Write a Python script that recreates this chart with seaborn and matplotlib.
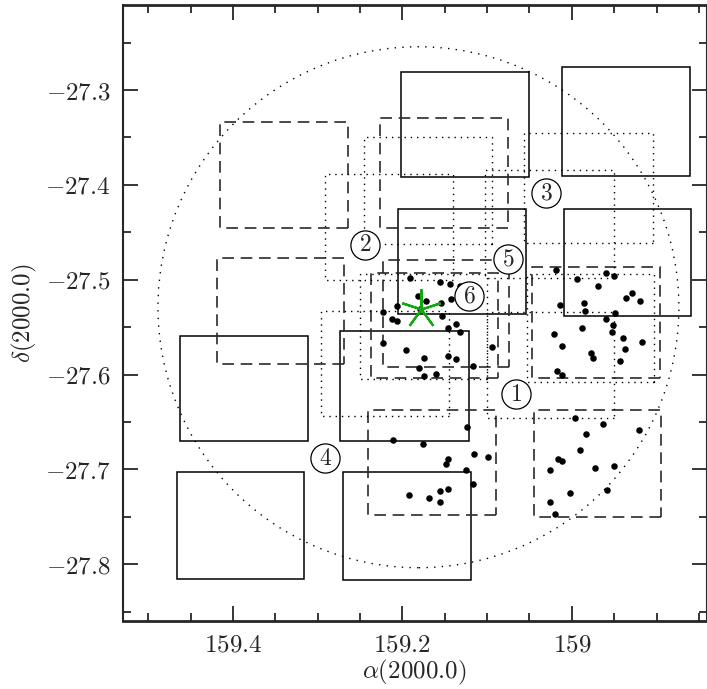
import matplotlib
matplotlib.use('Agg')
import matplotlib.pyplot as plt
import pandas as pd
import seaborn as sns
from matplotlib.patches import Rectangle, Ellipse
from matplotlib.ticker import MultipleLocator, FuncFormatter

# field boxes: (RA east edge, RA west edge), (Dec top, Dec bottom)
solid_ra = [(159.201, 159.050), (159.012, 158.860), (159.205, 159.054), (159.009, 158.859),
            (159.462, 159.311), (159.273, 159.121), (159.466, 159.316), (159.270, 159.119)]
solid_dec = [(-27.281, -27.392), (-27.276, -27.391), (-27.425, -27.536), (-27.425, -27.538),
             (-27.559, -27.670), (-27.554, -27.670), (-27.703, -27.815), (-27.703, -27.817)]

dashed_ra = [(159.415, 159.264), (159.419, 159.269), (159.226, 159.075), (159.223, 159.074),
             (159.237, 159.087), (159.241, 159.090), (159.045, 158.895), (159.047, 158.896)]
dashed_dec = [(-27.334, -27.445), (-27.477, -27.589), (-27.329, -27.445), (-27.479, -27.592),
              (-27.493, -27.604), (-27.637, -27.748), (-27.637, -27.750), (-27.487, -27.604)]

dotted_ra = [(159.291, 159.140), (159.245, 159.094), (159.102, 158.950), (159.056, 158.904),
             (159.296, 159.145), (159.250, 159.100), (159.053, 158.903), (159.100, 158.950)]
dotted_dec = [(-27.389, -27.500), (-27.350, -27.462), (-27.384, -27.498), (-27.345, -27.461),
              (-27.533, -27.644), (-27.494, -27.605), (-27.494, -27.608), (-27.534, -27.646)]

# survey circle
circle_ra, circle_dec = 159.181, -27.529
circle_rra, circle_rdec = 0.3074, 0.2746

# central object
star_ra, star_dec = 159.178, -27.531

# numbered labels
label_num = [1, 2, 3, 4, 5, 6]
label_ra = [159.066, 159.244, 159.030, 159.291, 159.075, 159.121]
label_dec = [-27.621, -27.463, -27.409, -27.688, -27.478, -27.517]

# member dots
dot_ra = [159.191, 159.155, 159.144, 159.132, 159.142, 159.182, 159.172, 159.154, 159.206, 159.179,
          159.223, 159.153, 159.212, 159.206, 159.146, 159.137, 159.132, 159.223, 159.196, 159.174,
          159.146, 159.137, 159.117, 159.180, 159.174, 159.160, 159.094, 159.124,
          159.211, 159.176, 159.146, 159.148, 159.116, 159.099, 159.125, 159.117, 159.192, 159.169,
          159.156, 159.146, 159.155,
          159.019, 158.994, 158.960, 158.950, 158.969, 158.936, 158.929, 158.919, 159.014, 158.986,
          158.984, 158.949, 158.960, 158.988, 158.951, 158.952, 159.021, 158.940, 158.917, 159.011,
          158.937, 158.977, 158.975, 158.943, 159.017, 159.011, 158.996, 158.963, 158.921,
          158.983, 158.990, 159.016, 159.011, 159.026, 158.973, 158.950, 159.002, 158.958, 159.026, 159.020]
dot_dec = [-27.498, -27.502, -27.505, -27.507, -27.520, -27.517, -27.522, -27.525, -27.528, -27.531,
           -27.534, -27.538, -27.541, -27.544, -27.551, -27.547, -27.555, -27.567, -27.574, -27.582,
           -27.580, -27.584, -27.591, -27.593, -27.602, -27.599, -27.571, -27.655,
           -27.669, -27.673, -27.689, -27.694, -27.684, -27.687, -27.701, -27.715, -27.727, -27.730,
           -27.723, -27.721, -27.734,
           -27.490, -27.499, -27.493, -27.496, -27.507, -27.519, -27.514, -27.522, -27.527, -27.525,
           -27.533, -27.535, -27.541, -27.551, -27.548, -27.555, -27.557, -27.561, -27.566, -27.570,
           -27.573, -27.577, -27.583, -27.586, -27.596, -27.600, -27.646, -27.652, -27.658,
           -27.663, -27.679, -27.689, -27.691, -27.701, -27.699, -27.696, -27.725, -27.722, -27.734, -27.747]

sns.set_style('ticks')
plt.rcParams['mathtext.fontset'] = 'cm'
plt.rcParams['font.family'] = ['DejaVu Serif']

fig = plt.figure(figsize=(7.07, 6.89), dpi=100)
ax = fig.add_axes([0.1736, 0.0991, 0.8257, 0.8936])


def add_boxes(ras, decs, **kw):
    for ra, dec in zip(ras, decs):
        ax.add_patch(Rectangle((min(ra), min(dec)), abs(ra[0] - ra[1]), abs(dec[0] - dec[1]),
                               fill=False, **kw))


add_boxes(solid_ra, solid_dec, ec='black', lw=1.1, zorder=2)
add_boxes(dashed_ra, dashed_dec, ec='#2a2a2a', lw=1.2, ls=(0, (7, 4)), zorder=2)
add_boxes(dotted_ra, dotted_dec, ec='black', lw=1.0, ls=(0, (1, 3.5)), zorder=2)

ax.add_patch(Ellipse((circle_ra, circle_dec), 2 * circle_rra, 2 * circle_rdec,
                     fill=False, ec='black', lw=1.0, ls=(0, (1, 4.5)), zorder=2))

dots = pd.DataFrame({'ra': dot_ra, 'dec': dot_dec})
sns.scatterplot(data=dots, x='ra', y='dec', s=22, color='black', linewidth=0, ax=ax, zorder=4)

ax.plot([star_ra], [star_dec], marker=(5, 2, 0), ms=29, mew=1.6, color='#12a812',
        ls='none', zorder=6)

ax.scatter(label_ra, label_dec, s=21 ** 2, facecolor='white', edgecolor='black', lw=0.9, zorder=5)
for n, ra, dec in zip(label_num, label_ra, label_dec):
    ax.text(ra, dec, f'${n}$', ha='center', va='center', fontsize=17, zorder=6)

ax.set_xlim(159.530, 158.841)
ax.set_ylim(-27.8595, -27.2104)

ax.xaxis.set_major_locator(MultipleLocator(0.2))
ax.xaxis.set_minor_locator(MultipleLocator(0.05))
ax.yaxis.set_major_locator(MultipleLocator(0.1))
ax.yaxis.set_minor_locator(MultipleLocator(0.05))
fmt = FuncFormatter(lambda v, p: f'${v:g}$')
ax.xaxis.set_major_formatter(fmt)
ax.yaxis.set_major_formatter(fmt)

ax.tick_params(which='both', direction='in', top=True, right=True, width=1.1, color='black')
ax.tick_params(which='major', length=11, labelsize=18, pad=9)
ax.tick_params(which='minor', length=5.5)
for side in ['left', 'right']:
    ax.spines[side].set_linewidth(1.5)
for side in ['top', 'bottom']:
    ax.spines[side].set_linewidth(2.0)

ax.set_xlabel(r'$\alpha(2000.0)$', fontsize=18, labelpad=1)
ax.set_ylabel(r'$\delta(2000.0)$', fontsize=18, labelpad=4)

fig.savefig('out.png', dpi=100)
